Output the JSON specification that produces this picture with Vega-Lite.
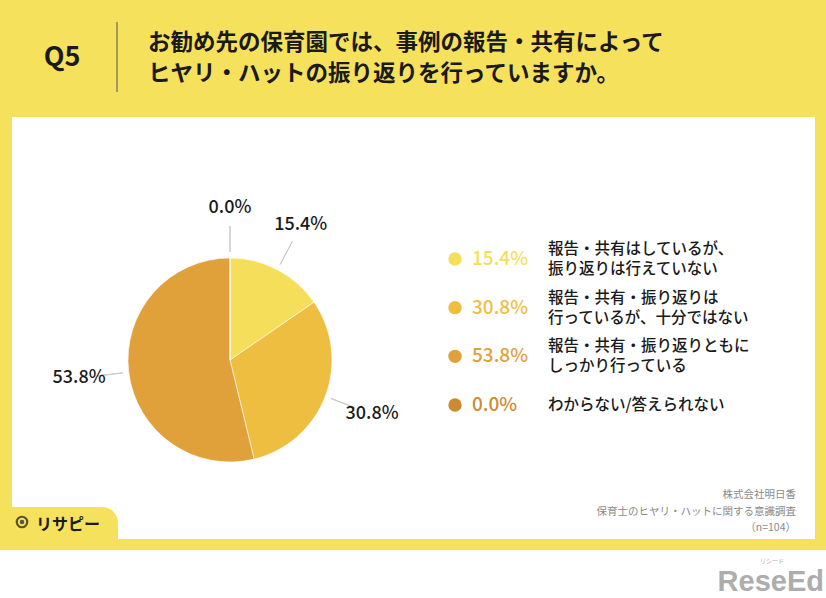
{
  "$schema": "https://vega.github.io/schema/vega-lite/v6.json",
  "width": 803,
  "height": 422,
  "autosize": {"type": "none"},
  "padding": {"left": 12, "top": 117, "right": 11, "bottom": 59},
  "background": "#F6E15C",
  "view": {"fill": "#FFFFFF", "stroke": null},
  "config": {"font": "Noto Sans CJK JP"},
  "datasets": {
    "slices": [
      {"key": "a", "label": "15.4%", "value": 15.4, "order": 1, "desc1": "報告・共有はしているが、", "desc2": "振り返りは行えていない"},
      {"key": "b", "label": "30.8%", "value": 30.8, "order": 2, "desc1": "報告・共有・振り返りは", "desc2": "行っているが、十分ではない"},
      {"key": "c", "label": "53.8%", "value": 53.8, "order": 3, "desc1": "報告・共有・振り返りともに", "desc2": "しっかり行っている"},
      {"key": "d", "label": "0.0%", "value": 0.0, "order": 4, "desc1": "わからない/答えられない", "desc2": ""}
    ],
    "deco": [{}]
  },
  "layer": [
    {
      "data": {"name": "deco"},
      "mark": {"type": "rect", "color": "#FFFFFF"},
      "encoding": {"x": {"value": -12}, "x2": {"value": 814}, "y": {"value": 433}, "y2": {"value": 481}}
    },
    {
      "data": {"name": "deco"},
      "mark": {"type": "rect", "color": "#F6E15C", "cornerRadiusTopRight": 26},
      "encoding": {"x": {"value": -12}, "x2": {"value": 106}, "y": {"value": 390}, "y2": {"value": 422}}
    },
    {
      "data": {"name": "deco"},
      "mark": {"type": "text", "text": "Q5", "fontSize": 27, "fontWeight": 700, "color": "#1a1a1a", "align": "center", "baseline": "middle"},
      "encoding": {"x": {"value": 50}, "y": {"value": -59}}
    },
    {
      "data": {"name": "deco"},
      "mark": {"type": "rule", "color": "#555555", "strokeWidth": 1},
      "encoding": {"x": {"value": 105}, "y": {"value": -95}, "y2": {"value": -25}}
    },
    {
      "data": {"name": "deco"},
      "mark": {"type": "text", "text": "お勧め先の保育園では、事例の報告・共有によって", "fontSize": 22.5, "fontWeight": 700, "color": "#1a1a1a", "align": "left", "baseline": "middle"},
      "encoding": {"x": {"value": 136}, "y": {"value": -74}}
    },
    {
      "data": {"name": "deco"},
      "mark": {"type": "text", "text": "ヒヤリ・ハットの振り返りを行っていますか。", "fontSize": 22.5, "fontWeight": 700, "color": "#1a1a1a", "align": "left", "baseline": "middle"},
      "encoding": {"x": {"value": 136}, "y": {"value": -43}}
    },
    {
      "data": {"name": "deco"},
      "mark": {"type": "text", "text": "株式会社明日香\n保育士のヒヤリ・ハットに関する意識調査\n（n=104）", "lineBreak": "\n", "lineHeight": 16.5, "fontSize": 10.5, "color": "#8a8a8a", "align": "right", "baseline": "middle"},
      "encoding": {"x": {"value": 784}, "y": {"value": 378}}
    },
    {
      "data": {"name": "deco"},
      "mark": {"type": "point", "shape": "circle", "filled": false, "color": "#1a1a1a", "strokeWidth": 2.2, "size": 110},
      "encoding": {"x": {"value": 10}, "y": {"value": 405}}
    },
    {
      "data": {"name": "deco"},
      "mark": {"type": "point", "shape": "circle", "filled": true, "opacity": 1, "color": "#555555", "size": 20},
      "encoding": {"x": {"value": 10}, "y": {"value": 405}}
    },
    {
      "data": {"name": "deco"},
      "mark": {"type": "text", "text": "リサピー", "fontSize": 16, "fontWeight": 700, "color": "#1a1a1a", "align": "left", "baseline": "middle"},
      "encoding": {"x": {"value": 24}, "y": {"value": 408}}
    },
    {
      "data": {"name": "deco"},
      "mark": {"type": "text", "text": "ReseEd", "font": "Liberation Sans", "fontSize": 29, "fontWeight": 700, "color": "#ADADAD", "align": "right", "baseline": "middle"},
      "encoding": {"x": {"value": 812}, "y": {"value": 465}}
    },
    {
      "data": {"name": "deco"},
      "mark": {"type": "text", "text": "リシード", "fontSize": 6, "color": "#ADADAD", "align": "center", "baseline": "middle"},
      "encoding": {"x": {"value": 760}, "y": {"value": 444}}
    },
    {
      "data": {"name": "slices"},
      "transform": [
        {"stack": "value", "groupby": [], "sort": [{"field": "order"}], "as": ["v0", "v1"]}
      ],
      "mark": {"type": "arc", "x": 218, "y": 243, "outerRadius": 102, "stroke": "#FFFFFF", "strokeWidth": 0.6},
      "encoding": {
        "theta": {"field": "v0", "type": "quantitative", "stack": null, "scale": {"domain": [0, 100], "range": [0, 6.283185307]}},
        "theta2": {"field": "v1"},
        "color": {"field": "key", "type": "nominal", "legend": null, "scale": {"domain": ["a", "b", "c", "d"], "range": ["#F5DF5A", "#EEBE40", "#E0A03A", "#CE8A30"]}}
      }
    },
    {
      "data": {"name": "slices"},
      "transform": [
        {"stack": "value", "groupby": [], "sort": [{"field": "order"}], "as": ["v0", "v1"]},
        {"calculate": "(datum.v0 + datum.v1) / 2", "as": "mid"}
      ],
      "mark": {"type": "arc", "x": 218, "y": 243, "innerRadius": 108, "outerRadius": 134, "filled": false, "color": "#C8C8C8", "strokeWidth": 1},
      "encoding": {
        "theta": {"field": "mid", "type": "quantitative", "stack": null, "scale": {"domain": [0, 100], "range": [0, 6.283185307]}},
        "theta2": {"field": "mid"}
      }
    },
    {
      "data": {"name": "slices"},
      "transform": [
        {"stack": "value", "groupby": [], "sort": [{"field": "order"}], "as": ["v0", "v1"]},
        {"calculate": "(datum.v0 + datum.v1) / 2", "as": "mid"}
      ],
      "mark": {"type": "text", "x": 218, "y": 243, "radius": 152, "fontSize": 18, "fontWeight": 500, "color": "#1a1a1a", "align": "center", "baseline": "middle"},
      "encoding": {
        "theta": {"field": "mid", "type": "quantitative", "stack": null, "scale": {"domain": [0, 100], "range": [0, 6.283185307]}},
        "text": {"field": "label"}
      }
    },
    {
      "data": {"name": "slices"},
      "mark": {"type": "point", "shape": "circle", "filled": true, "opacity": 1, "size": 180, "x": 443},
      "encoding": {
        "y": {"field": "order", "type": "quantitative", "axis": null, "scale": {"domain": [1, 4], "range": [142, 288], "zero": false}},
        "color": {"field": "key", "type": "nominal", "legend": null}
      }
    },
    {
      "data": {"name": "slices"},
      "mark": {"type": "text", "x": 460, "align": "left", "baseline": "middle", "fontSize": 19, "fontWeight": 500},
      "encoding": {
        "y": {"field": "order", "type": "quantitative", "axis": null},
        "text": {"field": "label"},
        "color": {"field": "key", "type": "nominal", "legend": null}
      }
    },
    {
      "data": {"name": "slices"},
      "transform": [{"filter": "datum.order < 4"}],
      "mark": {"type": "text", "x": 536, "dy": -10, "align": "left", "baseline": "middle", "fontSize": 15.5, "fontWeight": 500, "color": "#1a1a1a"},
      "encoding": {
        "y": {"field": "order", "type": "quantitative", "axis": null},
        "text": {"field": "desc1"}
      }
    },
    {
      "data": {"name": "slices"},
      "transform": [{"filter": "datum.order < 4"}],
      "mark": {"type": "text", "x": 536, "dy": 10, "align": "left", "baseline": "middle", "fontSize": 15.5, "fontWeight": 500, "color": "#1a1a1a"},
      "encoding": {
        "y": {"field": "order", "type": "quantitative", "axis": null},
        "text": {"field": "desc2"}
      }
    },
    {
      "data": {"name": "slices"},
      "transform": [{"filter": "datum.order == 4"}],
      "mark": {"type": "text", "x": 536, "align": "left", "baseline": "middle", "fontSize": 15.5, "fontWeight": 500, "color": "#1a1a1a"},
      "encoding": {
        "y": {"field": "order", "type": "quantitative", "axis": null},
        "text": {"field": "desc1"}
      }
    }
  ]
}
